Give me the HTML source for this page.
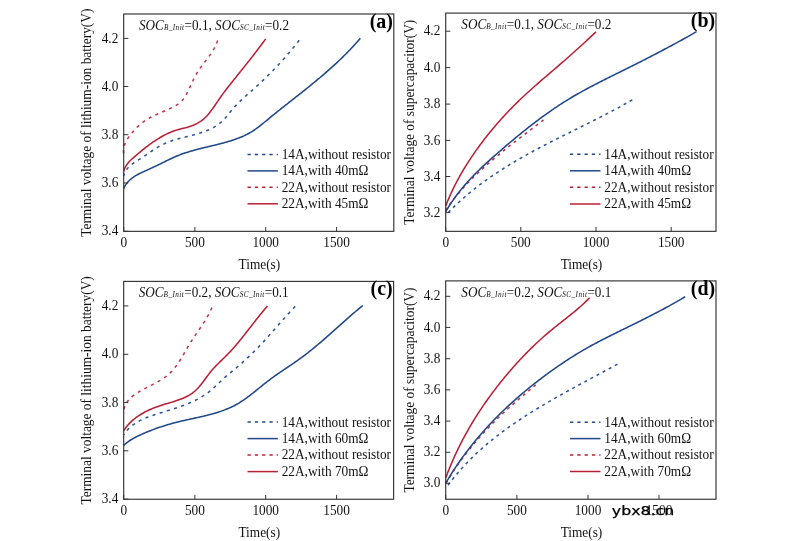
<!DOCTYPE html>
<html><head><meta charset="utf-8"><title>Figure</title>
<style>html,body{margin:0;padding:0;background:#fff}svg{display:block}text{font-family:"Liberation Serif","Times New Roman",serif}</style></head><body>
<svg width="790" height="541" viewBox="0 0 790 541">
<rect width="790" height="541" fill="#fff"/>
<g>
<path d="M123.70 153.90 L123.53 152.43 L123.48 150.98 L123.56 149.54 L123.75 148.11 L124.05 146.70 L124.44 145.31 L124.93 143.93 L125.51 142.57 L126.16 141.23 L126.89 139.90 L127.67 138.60 L128.52 137.32 L129.41 136.06 L130.35 134.82 L131.32 133.61 L132.32 132.42 L133.34 131.25 L134.38 130.11 L135.42 129.00 L136.48 127.91 L137.55 126.85 L138.64 125.82 L139.74 124.82 L140.87 123.85 L142.02 122.91 L143.19 122.01 L144.38 121.13 L145.61 120.29 L146.86 119.49 L148.14 118.71 L149.44 117.97 L150.76 117.25 L152.11 116.56 L153.47 115.89 L154.84 115.24 L156.23 114.61 L157.62 113.99 L159.02 113.38 L160.42 112.77 L161.82 112.17 L163.22 111.58 L164.61 110.98 L165.99 110.38 L167.37 109.78 L168.72 109.16 L170.06 108.54 L171.38 107.89 L172.68 107.23 L173.95 106.55 L175.19 105.85 L176.40 105.12 L177.57 104.35 L178.70 103.54 L179.79 102.68 L180.83 101.76 L181.82 100.79 L182.76 99.74 L183.64 98.63 L184.47 97.46 L185.26 96.24 L186.01 94.98 L186.74 93.68 L187.43 92.35 L188.11 91.01 L188.77 89.65 L189.42 88.28 L190.06 86.90 L190.70 85.51 L191.33 84.13 L191.97 82.74 L192.61 81.36 L193.26 79.98 L193.93 78.61 L194.62 77.26 L195.32 75.92 L196.05 74.60 L196.81 73.30 L197.60 72.03 L198.41 70.77 L199.24 69.53 L200.10 68.31 L200.97 67.09 L201.85 65.89 L202.74 64.70 L203.64 63.51 L204.55 62.32 L205.45 61.14 L206.36 59.96 L207.26 58.77 L208.15 57.57 L209.02 56.37 L209.89 55.16 L210.74 53.94 L211.56 52.70 L212.37 51.44 L213.15 50.16 L213.90 48.87 L214.61 47.55 L215.29 46.20 L215.93 44.82 L216.54 43.42 L217.09 41.98 L217.60 40.50" fill="none" stroke="#c23347" stroke-width="1.55" stroke-dasharray="3.1 4.4" stroke-dashoffset="6.91" stroke-linejoin="round"/>
<path d="M123.70 175.90 L124.18 174.34 L124.76 172.89 L125.43 171.53 L126.17 170.26 L126.99 169.07 L127.88 167.96 L128.84 166.92 L129.85 165.94 L130.91 165.01 L132.02 164.12 L133.17 163.28 L134.36 162.46 L135.57 161.67 L136.80 160.89 L138.05 160.12 L139.32 159.35 L140.58 158.58 L141.85 157.79 L143.11 156.99 L144.36 156.16 L145.61 155.32 L146.86 154.46 L148.10 153.60 L149.34 152.74 L150.59 151.87 L151.84 151.01 L153.09 150.16 L154.36 149.32 L155.63 148.50 L156.91 147.69 L158.20 146.91 L159.51 146.16 L160.84 145.44 L162.18 144.75 L163.54 144.10 L164.91 143.48 L166.30 142.89 L167.70 142.32 L169.11 141.78 L170.53 141.27 L171.96 140.78 L173.40 140.30 L174.85 139.85 L176.31 139.41 L177.77 138.99 L179.23 138.58 L180.70 138.18 L182.17 137.79 L183.64 137.40 L185.11 137.03 L186.58 136.65 L188.04 136.28 L189.51 135.91 L190.96 135.54 L192.42 135.16 L193.86 134.78 L195.30 134.39 L196.73 133.99 L198.16 133.58 L199.57 133.16 L200.96 132.72 L202.35 132.27 L203.72 131.80 L205.08 131.31 L206.41 130.80 L207.74 130.26 L209.04 129.70 L210.33 129.11 L211.59 128.50 L212.83 127.85 L214.06 127.17 L215.26 126.45 L216.45 125.70 L217.61 124.91 L218.75 124.08 L219.87 123.20 L220.97 122.29 L222.05 121.32 L223.11 120.31 L224.14 119.25 L225.16 118.13 L226.16 116.98 L227.14 115.80 L228.12 114.59 L229.09 113.37 L230.06 112.16 L231.03 110.95 L232.02 109.77 L233.01 108.61 L234.01 107.47 L235.03 106.36 L236.05 105.27 L237.08 104.19 L238.12 103.14 L239.16 102.10 L240.22 101.08 L241.27 100.07 L242.34 99.07 L243.41 98.08 L244.48 97.10 L245.56 96.12 L246.64 95.16 L247.73 94.19 L248.82 93.23 L249.91 92.27 L251.00 91.31 L252.09 90.35 L253.18 89.38 L254.27 88.41 L255.37 87.43 L256.46 86.44 L257.55 85.45 L258.64 84.45 L259.73 83.44 L260.81 82.43 L261.90 81.40 L262.98 80.38 L264.06 79.34 L265.14 78.30 L266.21 77.25 L267.28 76.20 L268.35 75.14 L269.42 74.07 L270.49 73.00 L271.55 71.92 L272.60 70.84 L273.66 69.75 L274.71 68.66 L275.75 67.56 L276.79 66.46 L277.83 65.36 L278.86 64.25 L279.89 63.14 L280.91 62.02 L281.93 60.90 L282.94 59.77 L283.95 58.65 L284.95 57.52 L285.95 56.38 L286.94 55.25 L287.92 54.11 L288.90 52.97 L289.87 51.82 L290.84 50.68 L291.80 49.53 L292.75 48.38 L293.69 47.23 L294.63 46.08 L295.56 44.92 L296.48 43.77 L297.40 42.61 L298.30 41.46 L299.20 40.30" fill="none" stroke="#2f5596" stroke-width="1.55" stroke-dasharray="3.1 4.4" stroke-dashoffset="0.62" stroke-linejoin="round"/>
<path d="M123.70 188.60 L124.34 187.19 L125.05 185.85 L125.84 184.59 L126.68 183.41 L127.59 182.29 L128.55 181.23 L129.57 180.23 L130.63 179.28 L131.74 178.38 L132.90 177.53 L134.09 176.72 L135.31 175.94 L136.57 175.20 L137.85 174.48 L139.16 173.79 L140.48 173.12 L141.82 172.47 L143.18 171.83 L144.54 171.21 L145.90 170.59 L147.27 169.98 L148.64 169.37 L149.99 168.75 L151.35 168.14 L152.69 167.52 L154.04 166.90 L155.38 166.27 L156.72 165.64 L158.05 165.00 L159.39 164.35 L160.72 163.70 L162.06 163.04 L163.39 162.38 L164.73 161.71 L166.07 161.05 L167.41 160.38 L168.76 159.72 L170.11 159.07 L171.46 158.43 L172.82 157.79 L174.19 157.18 L175.57 156.57 L176.95 155.99 L178.35 155.42 L179.75 154.87 L181.16 154.34 L182.58 153.83 L184.00 153.33 L185.43 152.85 L186.87 152.39 L188.31 151.93 L189.75 151.50 L191.21 151.07 L192.66 150.65 L194.12 150.25 L195.58 149.85 L197.05 149.46 L198.51 149.08 L199.98 148.71 L201.45 148.34 L202.93 147.98 L204.40 147.62 L205.87 147.27 L207.34 146.92 L208.81 146.57 L210.28 146.22 L211.74 145.87 L213.21 145.52 L214.67 145.17 L216.13 144.81 L217.58 144.45 L219.03 144.09 L220.48 143.73 L221.92 143.35 L223.35 142.97 L224.78 142.58 L226.20 142.19 L227.61 141.78 L229.02 141.36 L230.42 140.94 L231.81 140.50 L233.19 140.04 L234.56 139.58 L235.92 139.09 L237.28 138.60 L238.62 138.08 L239.95 137.55 L241.26 137.00 L242.57 136.43 L243.87 135.85 L245.16 135.23 L246.44 134.60 L247.70 133.94 L248.97 133.26 L250.22 132.55 L251.46 131.81 L252.70 131.04 L253.93 130.24 L255.15 129.41 L256.37 128.56 L257.58 127.67 L258.79 126.77 L259.99 125.84 L261.19 124.90 L262.38 123.94 L263.57 122.98 L264.76 122.00 L265.94 121.02 L267.13 120.04 L268.30 119.06 L269.48 118.09 L270.66 117.12 L271.83 116.16 L273.01 115.20 L274.18 114.25 L275.35 113.30 L276.52 112.36 L277.69 111.42 L278.86 110.49 L280.03 109.56 L281.20 108.63 L282.37 107.70 L283.53 106.78 L284.70 105.86 L285.86 104.94 L287.03 104.03 L288.19 103.11 L289.35 102.20 L290.52 101.29 L291.68 100.38 L292.84 99.46 L294.00 98.55 L295.17 97.64 L296.33 96.73 L297.49 95.81 L298.65 94.89 L299.82 93.98 L300.98 93.06 L302.14 92.13 L303.30 91.21 L304.47 90.28 L305.63 89.35 L306.79 88.42 L307.95 87.49 L309.11 86.55 L310.27 85.61 L311.43 84.67 L312.59 83.72 L313.75 82.77 L314.90 81.82 L316.06 80.87 L317.21 79.91 L318.36 78.95 L319.51 77.98 L320.65 77.02 L321.80 76.05 L322.94 75.07 L324.08 74.09 L325.21 73.11 L326.35 72.13 L327.48 71.14 L328.61 70.15 L329.73 69.15 L330.85 68.15 L331.97 67.15 L333.08 66.14 L334.19 65.13 L335.30 64.11 L336.40 63.09 L337.50 62.06 L338.59 61.03 L339.68 60.00 L340.77 58.96 L341.85 57.92 L342.92 56.87 L343.99 55.82 L345.05 54.76 L346.11 53.70 L347.17 52.64 L348.22 51.57 L349.26 50.49 L350.29 49.41 L351.32 48.32 L352.35 47.23 L353.37 46.13 L354.38 45.03 L355.38 43.92 L356.38 42.81 L357.37 41.69 L358.35 40.57 L359.33 39.44 L360.30 38.30" fill="none" stroke="#214889" stroke-width="1.55" stroke-linejoin="round"/>
<path d="M123.70 171.30 L124.12 169.82 L124.65 168.42 L125.28 167.09 L126.00 165.83 L126.79 164.63 L127.66 163.48 L128.59 162.38 L129.57 161.32 L130.60 160.29 L131.66 159.29 L132.74 158.31 L133.85 157.33 L134.96 156.37 L136.08 155.41 L137.20 154.45 L138.32 153.49 L139.45 152.54 L140.59 151.60 L141.73 150.66 L142.88 149.72 L144.04 148.79 L145.21 147.87 L146.39 146.95 L147.58 146.04 L148.78 145.14 L149.99 144.25 L151.22 143.36 L152.45 142.49 L153.71 141.63 L154.97 140.78 L156.25 139.94 L157.54 139.12 L158.84 138.31 L160.15 137.52 L161.47 136.76 L162.80 136.01 L164.14 135.29 L165.49 134.59 L166.84 133.92 L168.20 133.28 L169.57 132.67 L170.94 132.09 L172.32 131.55 L173.70 131.03 L175.09 130.56 L176.47 130.12 L177.86 129.71 L179.26 129.33 L180.65 128.97 L182.04 128.61 L183.43 128.26 L184.82 127.90 L186.21 127.53 L187.60 127.15 L188.98 126.73 L190.37 126.28 L191.74 125.80 L193.11 125.26 L194.47 124.68 L195.82 124.06 L197.15 123.38 L198.45 122.66 L199.73 121.89 L200.98 121.06 L202.20 120.19 L203.37 119.27 L204.51 118.29 L205.60 117.27 L206.65 116.19 L207.65 115.08 L208.62 113.93 L209.57 112.76 L210.48 111.57 L211.38 110.36 L212.25 109.15 L213.12 107.94 L213.97 106.73 L214.81 105.52 L215.65 104.30 L216.48 103.08 L217.31 101.87 L218.14 100.65 L218.97 99.44 L219.80 98.22 L220.65 97.01 L221.50 95.79 L222.37 94.58 L223.25 93.37 L224.15 92.16 L225.06 90.95 L225.99 89.75 L226.92 88.55 L227.86 87.35 L228.80 86.15 L229.74 84.96 L230.68 83.77 L231.63 82.59 L232.57 81.40 L233.51 80.22 L234.45 79.05 L235.38 77.87 L236.32 76.70 L237.26 75.53 L238.20 74.36 L239.13 73.19 L240.07 72.03 L241.00 70.86 L241.93 69.69 L242.86 68.53 L243.79 67.37 L244.72 66.20 L245.65 65.04 L246.58 63.87 L247.51 62.70 L248.43 61.54 L249.35 60.37 L250.28 59.20 L251.20 58.03 L252.12 56.86 L253.03 55.68 L253.95 54.51 L254.86 53.33 L255.78 52.14 L256.69 50.96 L257.60 49.77 L258.51 48.58 L259.41 47.38 L260.32 46.19 L261.22 44.98 L262.12 43.78 L263.02 42.56 L263.91 41.35 L264.81 40.13 L265.70 38.90" fill="none" stroke="#b92035" stroke-width="1.55" stroke-linejoin="round"/>
<rect x="123.70" y="14.00" width="270.10" height="217.35" fill="none" stroke="#333" stroke-width="1.15"/>
<path d="M123.70 38.40h4.6M123.70 86.50h4.6M123.70 134.70h4.6M123.70 183.00h4.6M123.70 231.35h4.6M123.70 231.35v-4.4M194.90 231.35v-4.4M265.70 231.35v-4.4M336.60 231.35v-4.4" stroke="#333" stroke-width="1" fill="none"/>
<text transform="translate(118.30 42.50) scale(1 1.130)" font-size="13.3" text-anchor="end" fill="#111">4.2</text>
<text transform="translate(118.30 90.60) scale(1 1.130)" font-size="13.3" text-anchor="end" fill="#111">4.0</text>
<text transform="translate(118.30 138.80) scale(1 1.130)" font-size="13.3" text-anchor="end" fill="#111">3.8</text>
<text transform="translate(118.30 187.10) scale(1 1.130)" font-size="13.3" text-anchor="end" fill="#111">3.6</text>
<text transform="translate(118.30 235.45) scale(1 1.130)" font-size="13.3" text-anchor="end" fill="#111">3.4</text>
<text transform="translate(123.70 246.95) scale(1 1.130)" font-size="13.3" text-anchor="middle" fill="#111">0</text>
<text transform="translate(194.90 246.95) scale(1 1.130)" font-size="13.3" text-anchor="middle" fill="#111">500</text>
<text transform="translate(265.70 246.95) scale(1 1.130)" font-size="13.3" text-anchor="middle" fill="#111">1000</text>
<text transform="translate(336.60 246.95) scale(1 1.130)" font-size="13.3" text-anchor="middle" fill="#111">1500</text>
<text transform="translate(259.35 268.65) scale(1 1.130)" font-size="13.3" text-anchor="middle" fill="#111">Time(s)</text>
<text transform="translate(90.90 122.67) rotate(-90) scale(1 1.02)" font-size="13.3" text-anchor="middle" textLength="228.3" lengthAdjust="spacingAndGlyphs" fill="#111">Terminal voltage of lithium-ion battery(V)</text>
<text transform="translate(139.00 29.60) scale(1 1.130)" font-size="13.3" text-anchor="start" fill="#111" textLength="150" lengthAdjust="spacingAndGlyphs"><tspan font-style="italic">SOC</tspan><tspan font-style="italic" font-size="7.3" letter-spacing="0.45">B_Init</tspan>=0.1, <tspan font-style="italic">SOC</tspan><tspan font-style="italic" font-size="7.3" letter-spacing="0.45">SC_Init</tspan>=0.2</text>
<text x="392.90" y="28.00" font-size="19.9" font-weight="bold" text-anchor="end" fill="#000">(a)</text>
<path d="M247.50 154.50H277.90" stroke="#214889" stroke-width="1.5" stroke-dasharray="3.3 4" fill="none"/>
<text transform="translate(281.70 158.90) scale(1 1.130)" font-size="13.3" text-anchor="start" fill="#111">14A,without resistor</text>
<path d="M247.50 170.90H277.90" stroke="#214889" stroke-width="1.5" fill="none"/>
<text transform="translate(281.70 175.30) scale(1 1.130)" font-size="13.3" text-anchor="start" fill="#111">14A,with 40mΩ</text>
<path d="M247.50 187.20H277.90" stroke="#b92035" stroke-width="1.5" stroke-dasharray="3.3 4" fill="none"/>
<text transform="translate(281.70 191.60) scale(1 1.130)" font-size="13.3" text-anchor="start" fill="#111">22A,without resistor</text>
<path d="M247.50 203.80H277.90" stroke="#b92035" stroke-width="1.5" fill="none"/>
<text transform="translate(281.70 208.20) scale(1 1.130)" font-size="13.3" text-anchor="start" fill="#111">22A,with 45mΩ</text>
</g>
<g>
<path d="M445.70 210.10 L446.55 208.87 L447.41 207.64 L448.28 206.42 L449.15 205.21 L450.04 204.00 L450.93 202.81 L451.83 201.62 L452.74 200.44 L453.65 199.27 L454.58 198.10 L455.51 196.95 L456.45 195.80 L457.39 194.65 L458.35 193.52 L459.31 192.39 L460.28 191.27 L461.25 190.15 L462.23 189.04 L463.22 187.94 L464.22 186.84 L465.22 185.75 L466.23 184.67 L467.24 183.59 L468.26 182.52 L469.29 181.45 L470.32 180.39 L471.36 179.34 L472.41 178.29 L473.46 177.25 L474.51 176.21 L475.57 175.18 L476.64 174.15 L477.71 173.13 L478.79 172.11 L479.87 171.10 L480.95 170.09 L482.04 169.09 L483.14 168.09 L484.24 167.09 L485.34 166.10 L486.45 165.12 L487.56 164.14 L488.68 163.16 L489.80 162.19 L490.92 161.22 L492.05 160.25 L493.18 159.29 L494.32 158.33 L495.45 157.38 L496.59 156.42 L497.74 155.48 L498.88 154.53 L500.03 153.59 L501.19 152.65 L502.34 151.71 L503.50 150.78 L504.66 149.85 L505.82 148.92 L506.98 147.99 L508.15 147.07 L509.32 146.14 L510.49 145.22 L511.66 144.31 L512.83 143.39 L514.01 142.48 L515.18 141.56 L516.36 140.65 L517.54 139.74 L518.72 138.84 L519.90 137.93 L521.08 137.02 L522.26 136.12 L523.44 135.21 L524.62 134.31 L525.81 133.41 L526.99 132.51 L528.17 131.61 L529.35 130.71 L530.54 129.81 L531.72 128.91 L532.90 128.01 L534.08 127.11 L535.26 126.21 L536.44 125.31 L537.62 124.41 L538.80 123.51 L539.98 122.61 L541.15 121.71 L542.33 120.80 L543.50 119.90" fill="none" stroke="#c23347" stroke-width="1.55" stroke-dasharray="3.0 3.9" stroke-dashoffset="0.43" stroke-linejoin="round"/>
<path d="M445.70 215.20 L446.74 214.10 L447.78 213.01 L448.83 211.93 L449.88 210.85 L450.94 209.78 L452.01 208.72 L453.08 207.67 L454.15 206.62 L455.24 205.59 L456.32 204.55 L457.42 203.53 L458.51 202.51 L459.61 201.50 L460.72 200.50 L461.83 199.51 L462.95 198.52 L464.07 197.54 L465.20 196.56 L466.33 195.59 L467.47 194.63 L468.61 193.68 L469.76 192.73 L470.91 191.78 L472.06 190.85 L473.22 189.92 L474.39 188.99 L475.56 188.08 L476.73 187.17 L477.91 186.26 L479.09 185.36 L480.27 184.47 L481.46 183.58 L482.66 182.70 L483.85 181.82 L485.06 180.95 L486.26 180.08 L487.47 179.22 L488.68 178.37 L489.90 177.52 L491.12 176.68 L492.34 175.84 L493.57 175.00 L494.80 174.17 L496.04 173.35 L497.27 172.53 L498.51 171.72 L499.76 170.91 L501.01 170.10 L502.26 169.30 L503.51 168.51 L504.77 167.72 L506.03 166.93 L507.29 166.15 L508.55 165.37 L509.82 164.59 L511.09 163.82 L512.37 163.06 L513.64 162.30 L514.92 161.54 L516.20 160.78 L517.49 160.03 L518.77 159.29 L520.06 158.54 L521.35 157.80 L522.64 157.07 L523.94 156.33 L525.24 155.60 L526.54 154.88 L527.84 154.16 L529.14 153.44 L530.45 152.72 L531.75 152.01 L533.06 151.30 L534.37 150.59 L535.69 149.88 L537.00 149.18 L538.32 148.48 L539.63 147.78 L540.95 147.09 L542.27 146.39 L543.59 145.70 L544.92 145.02 L546.24 144.33 L547.56 143.65 L548.89 142.96 L550.22 142.28 L551.55 141.60 L552.88 140.93 L554.21 140.25 L555.54 139.58 L556.87 138.90 L558.20 138.23 L559.54 137.56 L560.87 136.89 L562.20 136.22 L563.54 135.55 L564.87 134.89 L566.21 134.22 L567.55 133.55 L568.88 132.89 L570.22 132.22 L571.56 131.56 L572.89 130.89 L574.23 130.23 L575.57 129.57 L576.91 128.90 L578.24 128.24 L579.58 127.57 L580.92 126.91 L582.25 126.24 L583.59 125.58 L584.93 124.91 L586.26 124.24 L587.60 123.58 L588.93 122.91 L590.26 122.24 L591.60 121.57 L592.93 120.90 L594.26 120.22 L595.59 119.55 L596.92 118.87 L598.25 118.20 L599.58 117.52 L600.91 116.84 L602.23 116.16 L603.56 115.47 L604.88 114.79 L606.20 114.10 L607.52 113.41 L608.84 112.72 L610.16 112.03 L611.48 111.33 L612.79 110.63 L614.11 109.93 L615.42 109.23 L616.73 108.52 L618.04 107.81 L619.35 107.10 L620.65 106.38 L621.95 105.67 L623.25 104.94 L624.55 104.22 L625.85 103.49 L627.14 102.76 L628.44 102.03 L629.73 101.29 L631.01 100.54 L632.30 99.80" fill="none" stroke="#2f5596" stroke-width="1.55" stroke-dasharray="3.0 3.9" stroke-dashoffset="3.26" stroke-linejoin="round"/>
<path d="M445.70 211.70 L446.47 210.36 L447.26 209.04 L448.06 207.73 L448.87 206.43 L449.69 205.15 L450.52 203.87 L451.36 202.61 L452.20 201.36 L453.06 200.12 L453.93 198.89 L454.80 197.67 L455.69 196.46 L456.58 195.26 L457.48 194.07 L458.39 192.89 L459.31 191.72 L460.24 190.56 L461.17 189.41 L462.12 188.26 L463.07 187.13 L464.02 186.00 L464.99 184.88 L465.96 183.77 L466.94 182.67 L467.92 181.58 L468.91 180.49 L469.91 179.41 L470.92 178.33 L471.93 177.26 L472.95 176.20 L473.97 175.15 L475.00 174.10 L476.04 173.05 L477.08 172.01 L478.12 170.98 L479.18 169.95 L480.23 168.93 L481.30 167.91 L482.36 166.89 L483.43 165.88 L484.51 164.87 L485.59 163.87 L486.68 162.87 L487.77 161.87 L488.86 160.87 L489.96 159.88 L491.06 158.89 L492.17 157.91 L493.28 156.92 L494.39 155.94 L495.50 154.96 L496.62 153.98 L497.75 153.00 L498.87 152.02 L500.00 151.04 L501.13 150.06 L502.26 149.09 L503.40 148.11 L504.54 147.13 L505.68 146.16 L506.82 145.19 L507.97 144.21 L509.11 143.24 L510.26 142.27 L511.42 141.30 L512.57 140.33 L513.73 139.36 L514.89 138.40 L516.06 137.43 L517.22 136.47 L518.39 135.51 L519.56 134.56 L520.74 133.60 L521.91 132.65 L523.09 131.70 L524.27 130.75 L525.46 129.80 L526.64 128.86 L527.83 127.92 L529.02 126.98 L530.22 126.05 L531.42 125.12 L532.62 124.19 L533.82 123.27 L535.02 122.35 L536.23 121.43 L537.44 120.52 L538.65 119.61 L539.86 118.71 L541.08 117.81 L542.30 116.92 L543.52 116.02 L544.75 115.14 L545.97 114.26 L547.20 113.38 L548.44 112.51 L549.67 111.64 L550.91 110.78 L552.15 109.92 L553.39 109.07 L554.64 108.22 L555.88 107.38 L557.13 106.55 L558.39 105.72 L559.64 104.90 L560.90 104.08 L562.16 103.27 L563.42 102.47 L564.69 101.67 L565.96 100.88 L567.23 100.09 L568.50 99.31 L569.77 98.54 L571.05 97.78 L572.33 97.02 L573.61 96.26 L574.90 95.51 L576.19 94.77 L577.48 94.03 L578.77 93.30 L580.06 92.57 L581.36 91.85 L582.65 91.13 L583.95 90.42 L585.25 89.71 L586.56 89.00 L587.86 88.30 L589.17 87.60 L590.47 86.91 L591.78 86.21 L593.10 85.53 L594.41 84.84 L595.72 84.16 L597.04 83.48 L598.36 82.80 L599.68 82.13 L601.00 81.46 L602.32 80.79 L603.64 80.12 L604.96 79.45 L606.29 78.79 L607.61 78.13 L608.94 77.46 L610.27 76.80 L611.60 76.14 L612.93 75.48 L614.26 74.82 L615.59 74.17 L616.92 73.51 L618.25 72.85 L619.59 72.19 L620.92 71.53 L622.26 70.87 L623.59 70.21 L624.93 69.55 L626.27 68.89 L627.60 68.23 L628.94 67.56 L630.28 66.90 L631.61 66.23 L632.95 65.56 L634.29 64.89 L635.63 64.22 L636.97 63.55 L638.30 62.87 L639.64 62.19 L640.98 61.51 L642.32 60.83 L643.66 60.15 L644.99 59.47 L646.33 58.79 L647.67 58.10 L649.01 57.41 L650.34 56.72 L651.68 56.03 L653.01 55.34 L654.35 54.65 L655.68 53.95 L657.02 53.25 L658.35 52.56 L659.68 51.86 L661.01 51.16 L662.34 50.45 L663.67 49.75 L665.00 49.04 L666.33 48.34 L667.66 47.63 L668.98 46.92 L670.31 46.21 L671.63 45.49 L672.95 44.78 L674.27 44.06 L675.59 43.35 L676.91 42.63 L678.23 41.91 L679.55 41.19 L680.86 40.47 L682.17 39.74 L683.48 39.02 L684.79 38.29 L686.10 37.57 L687.41 36.84 L688.71 36.11 L690.01 35.38 L691.32 34.64 L692.61 33.91 L693.91 33.17 L695.21 32.44 L696.50 31.70" fill="none" stroke="#214889" stroke-width="1.55" stroke-linejoin="round"/>
<path d="M445.70 206.10 L446.23 204.71 L446.78 203.33 L447.33 201.95 L447.89 200.57 L448.47 199.20 L449.05 197.83 L449.64 196.46 L450.24 195.10 L450.85 193.75 L451.48 192.39 L452.11 191.04 L452.74 189.70 L453.39 188.35 L454.05 187.01 L454.72 185.68 L455.39 184.35 L456.07 183.02 L456.76 181.70 L457.46 180.38 L458.17 179.06 L458.89 177.75 L459.61 176.45 L460.34 175.14 L461.08 173.84 L461.83 172.55 L462.58 171.25 L463.35 169.97 L464.12 168.68 L464.89 167.40 L465.68 166.13 L466.47 164.86 L467.27 163.59 L468.07 162.32 L468.88 161.06 L469.70 159.81 L470.52 158.56 L471.36 157.31 L472.19 156.06 L473.04 154.83 L473.89 153.59 L474.74 152.36 L475.60 151.13 L476.47 149.91 L477.34 148.69 L478.22 147.47 L479.10 146.26 L479.99 145.06 L480.88 143.85 L481.78 142.66 L482.68 141.46 L483.59 140.27 L484.51 139.09 L485.42 137.90 L486.35 136.73 L487.28 135.55 L488.21 134.39 L489.15 133.22 L490.09 132.06 L491.04 130.90 L491.99 129.75 L492.95 128.61 L493.91 127.46 L494.87 126.32 L495.84 125.19 L496.82 124.06 L497.80 122.93 L498.78 121.81 L499.77 120.69 L500.76 119.58 L501.76 118.47 L502.76 117.37 L503.77 116.27 L504.78 115.17 L505.79 114.08 L506.81 113.00 L507.83 111.92 L508.86 110.84 L509.89 109.76 L510.93 108.70 L511.97 107.63 L513.01 106.57 L514.06 105.52 L515.11 104.47 L516.17 103.42 L517.23 102.38 L518.29 101.34 L519.36 100.31 L520.43 99.28 L521.50 98.26 L522.58 97.24 L523.67 96.22 L524.75 95.21 L525.84 94.21 L526.93 93.21 L528.03 92.21 L529.13 91.21 L530.23 90.22 L531.33 89.23 L532.44 88.24 L533.55 87.26 L534.66 86.27 L535.78 85.29 L536.89 84.32 L538.01 83.34 L539.13 82.37 L540.25 81.39 L541.38 80.42 L542.50 79.45 L543.63 78.48 L544.75 77.51 L545.88 76.55 L547.01 75.58 L548.14 74.61 L549.27 73.64 L550.40 72.68 L551.54 71.71 L552.67 70.74 L553.80 69.77 L554.93 68.80 L556.07 67.83 L557.20 66.85 L558.33 65.88 L559.46 64.90 L560.59 63.92 L561.72 62.94 L562.85 61.96 L563.98 60.97 L565.11 59.99 L566.23 59.00 L567.36 58.01 L568.48 57.02 L569.61 56.02 L570.73 55.03 L571.85 54.03 L572.97 53.03 L574.08 52.03 L575.20 51.03 L576.31 50.03 L577.43 49.02 L578.54 48.02 L579.64 47.01 L580.75 46.00 L581.86 44.99 L582.96 43.98 L584.06 42.97 L585.16 41.96 L586.25 40.95 L587.35 39.93 L588.44 38.92 L589.53 37.90 L590.61 36.89 L591.69 35.87 L592.78 34.85 L593.85 33.84 L594.93 32.82 L596.00 31.80" fill="none" stroke="#b92035" stroke-width="1.55" stroke-linejoin="round"/>
<rect x="445.70" y="13.10" width="270.30" height="218.25" fill="none" stroke="#333" stroke-width="1.15"/>
<path d="M445.70 31.20h4.6M445.70 67.60h4.6M445.70 104.10h4.6M445.70 140.40h4.6M445.70 176.50h4.6M445.70 212.60h4.6M445.70 231.35v-4.4M520.80 231.35v-4.4M596.00 231.35v-4.4M671.20 231.35v-4.4" stroke="#333" stroke-width="1" fill="none"/>
<text transform="translate(440.30 35.30) scale(1 1.130)" font-size="13.3" text-anchor="end" fill="#111">4.2</text>
<text transform="translate(440.30 71.70) scale(1 1.130)" font-size="13.3" text-anchor="end" fill="#111">4.0</text>
<text transform="translate(440.30 108.20) scale(1 1.130)" font-size="13.3" text-anchor="end" fill="#111">3.8</text>
<text transform="translate(440.30 144.50) scale(1 1.130)" font-size="13.3" text-anchor="end" fill="#111">3.6</text>
<text transform="translate(440.30 180.60) scale(1 1.130)" font-size="13.3" text-anchor="end" fill="#111">3.4</text>
<text transform="translate(440.30 216.70) scale(1 1.130)" font-size="13.3" text-anchor="end" fill="#111">3.2</text>
<text transform="translate(445.70 246.95) scale(1 1.130)" font-size="13.3" text-anchor="middle" fill="#111">0</text>
<text transform="translate(520.80 246.95) scale(1 1.130)" font-size="13.3" text-anchor="middle" fill="#111">500</text>
<text transform="translate(596.00 246.95) scale(1 1.130)" font-size="13.3" text-anchor="middle" fill="#111">1000</text>
<text transform="translate(671.20 246.95) scale(1 1.130)" font-size="13.3" text-anchor="middle" fill="#111">1500</text>
<text transform="translate(581.45 268.65) scale(1 1.130)" font-size="13.3" text-anchor="middle" fill="#111">Time(s)</text>
<text transform="translate(413.70 122.22) rotate(-90) scale(1 1.02)" font-size="13.3" text-anchor="middle" textLength="205.0" lengthAdjust="spacingAndGlyphs" fill="#111">Terminal voltage of supercapacitor(V)</text>
<text transform="translate(461.30 28.70) scale(1 1.130)" font-size="13.3" text-anchor="start" fill="#111" textLength="150" lengthAdjust="spacingAndGlyphs"><tspan font-style="italic">SOC</tspan><tspan font-style="italic" font-size="7.3" letter-spacing="0.45">B_Init</tspan>=0.1, <tspan font-style="italic">SOC</tspan><tspan font-style="italic" font-size="7.3" letter-spacing="0.45">SC_Init</tspan>=0.2</text>
<text x="715.10" y="27.10" font-size="19.9" font-weight="bold" text-anchor="end" fill="#000">(b)</text>
<path d="M569.90 154.20H600.50" stroke="#214889" stroke-width="1.5" stroke-dasharray="3.3 4" fill="none"/>
<text transform="translate(604.30 158.60) scale(1 1.130)" font-size="13.3" text-anchor="start" fill="#111">14A,without resistor</text>
<path d="M569.90 170.80H600.50" stroke="#214889" stroke-width="1.5" fill="none"/>
<text transform="translate(604.30 175.20) scale(1 1.130)" font-size="13.3" text-anchor="start" fill="#111">14A,with 40mΩ</text>
<path d="M569.90 187.30H600.50" stroke="#b92035" stroke-width="1.5" stroke-dasharray="3.3 4" fill="none"/>
<text transform="translate(604.30 191.70) scale(1 1.130)" font-size="13.3" text-anchor="start" fill="#111">22A,without resistor</text>
<path d="M569.90 204.00H600.50" stroke="#b92035" stroke-width="1.5" fill="none"/>
<text transform="translate(604.30 208.40) scale(1 1.130)" font-size="13.3" text-anchor="start" fill="#111">22A,with 45mΩ</text>
</g>
<g>
<path d="M123.70 413.90 L123.70 412.28 L123.82 410.72 L124.05 409.23 L124.38 407.80 L124.82 406.43 L125.34 405.12 L125.96 403.85 L126.65 402.65 L127.43 401.49 L128.29 400.37 L129.21 399.31 L130.19 398.28 L131.24 397.29 L132.34 396.34 L133.49 395.43 L134.68 394.54 L135.92 393.69 L137.19 392.86 L138.48 392.06 L139.81 391.28 L141.15 390.52 L142.50 389.78 L143.87 389.05 L145.24 388.34 L146.61 387.64 L147.98 386.94 L149.34 386.25 L150.69 385.56 L152.04 384.87 L153.37 384.18 L154.69 383.48 L156.00 382.78 L157.29 382.07 L158.57 381.35 L159.83 380.61 L161.07 379.85 L162.29 379.08 L163.49 378.28 L164.67 377.47 L165.82 376.62 L166.95 375.74 L168.05 374.84 L169.12 373.90 L170.16 372.92 L171.17 371.91 L172.15 370.86 L173.11 369.78 L174.04 368.67 L174.96 367.54 L175.84 366.38 L176.71 365.19 L177.57 363.98 L178.40 362.75 L179.22 361.51 L180.03 360.24 L180.83 358.97 L181.62 357.68 L182.40 356.38 L183.17 355.07 L183.94 353.75 L184.70 352.43 L185.47 351.11 L186.23 349.79 L186.99 348.46 L187.76 347.14 L188.54 345.83 L189.32 344.52 L190.11 343.22 L190.91 341.93 L191.71 340.66 L192.53 339.39 L193.36 338.13 L194.19 336.88 L195.02 335.63 L195.86 334.40 L196.70 333.16 L197.54 331.93 L198.38 330.70 L199.22 329.47 L200.06 328.24 L200.89 327.01 L201.71 325.77 L202.53 324.54 L203.34 323.29 L204.14 322.05 L204.93 320.79 L205.70 319.53 L206.46 318.25 L207.21 316.97 L207.94 315.68 L208.65 314.37 L209.35 313.05 L210.02 311.71 L210.67 310.36 L211.30 308.99 L211.90 307.60" fill="none" stroke="#c23347" stroke-width="1.55" stroke-dasharray="3.1 4.4" stroke-dashoffset="2.93" stroke-linejoin="round"/>
<path d="M123.70 434.80 L124.53 433.55 L125.40 432.35 L126.32 431.20 L127.27 430.10 L128.27 429.04 L129.30 428.03 L130.37 427.06 L131.47 426.13 L132.60 425.24 L133.77 424.38 L134.96 423.56 L136.19 422.78 L137.43 422.03 L138.71 421.31 L140.00 420.62 L141.32 419.96 L142.66 419.32 L144.02 418.71 L145.39 418.12 L146.78 417.55 L148.18 417.00 L149.59 416.46 L151.02 415.95 L152.45 415.44 L153.89 414.96 L155.34 414.48 L156.79 414.01 L158.24 413.55 L159.70 413.09 L161.15 412.64 L162.60 412.19 L164.05 411.75 L165.50 411.30 L166.95 410.86 L168.39 410.42 L169.83 409.97 L171.26 409.52 L172.69 409.07 L174.12 408.61 L175.54 408.15 L176.95 407.69 L178.36 407.21 L179.77 406.73 L181.17 406.24 L182.56 405.74 L183.94 405.23 L185.32 404.71 L186.69 404.17 L188.05 403.62 L189.40 403.06 L190.74 402.48 L192.08 401.89 L193.40 401.28 L194.72 400.65 L196.02 400.00 L197.32 399.33 L198.60 398.64 L199.87 397.93 L201.13 397.20 L202.38 396.45 L203.62 395.67 L204.84 394.86 L206.05 394.03 L207.25 393.17 L208.43 392.28 L209.60 391.37 L210.76 390.43 L211.90 389.46 L213.03 388.47 L214.16 387.46 L215.27 386.44 L216.38 385.41 L217.48 384.37 L218.58 383.32 L219.68 382.27 L220.78 381.22 L221.87 380.18 L222.97 379.14 L224.07 378.11 L225.18 377.10 L226.29 376.11 L227.41 375.13 L228.53 374.17 L229.67 373.23 L230.80 372.30 L231.94 371.38 L233.07 370.46 L234.21 369.53 L235.34 368.61 L236.47 367.67 L237.59 366.72 L238.71 365.77 L239.83 364.81 L240.94 363.84 L242.05 362.87 L243.15 361.88 L244.25 360.89 L245.34 359.90 L246.43 358.89 L247.52 357.88 L248.60 356.86 L249.68 355.84 L250.75 354.81 L251.82 353.77 L252.88 352.72 L253.94 351.67 L254.99 350.62 L256.04 349.56 L257.08 348.49 L258.12 347.42 L259.16 346.34 L260.19 345.25 L261.21 344.17 L262.23 343.07 L263.25 341.98 L264.26 340.87 L265.27 339.77 L266.28 338.66 L267.28 337.55 L268.28 336.43 L269.27 335.31 L270.27 334.19 L271.26 333.07 L272.25 331.95 L273.24 330.83 L274.22 329.70 L275.21 328.57 L276.20 327.45 L277.18 326.32 L278.17 325.19 L279.15 324.07 L280.14 322.94 L281.13 321.82 L282.12 320.70 L283.11 319.58 L284.10 318.46 L285.09 317.35 L286.09 316.23 L287.09 315.12 L288.09 314.02 L289.09 312.92 L290.10 311.82 L291.11 310.72 L292.13 309.64 L293.15 308.55 L294.17 307.47 L295.20 306.40" fill="none" stroke="#2f5596" stroke-width="1.55" stroke-dasharray="3.1 4.4" stroke-dashoffset="2.04" stroke-linejoin="round"/>
<path d="M123.70 445.40 L124.73 444.44 L125.79 443.53 L126.87 442.66 L127.99 441.82 L129.12 441.02 L130.28 440.25 L131.46 439.51 L132.66 438.80 L133.88 438.11 L135.11 437.44 L136.37 436.79 L137.64 436.16 L138.92 435.54 L140.22 434.94 L141.53 434.35 L142.86 433.76 L144.19 433.19 L145.54 432.61 L146.89 432.05 L148.26 431.50 L149.63 430.95 L151.02 430.41 L152.41 429.88 L153.81 429.35 L155.21 428.84 L156.63 428.33 L158.05 427.83 L159.48 427.34 L160.91 426.86 L162.36 426.39 L163.80 425.92 L165.25 425.47 L166.71 425.02 L168.17 424.59 L169.63 424.16 L171.10 423.75 L172.57 423.34 L174.04 422.94 L175.51 422.56 L176.99 422.18 L178.47 421.81 L179.95 421.46 L181.43 421.10 L182.91 420.76 L184.39 420.42 L185.87 420.08 L187.35 419.75 L188.83 419.43 L190.31 419.10 L191.79 418.78 L193.27 418.45 L194.74 418.13 L196.21 417.81 L197.69 417.48 L199.15 417.15 L200.62 416.82 L202.08 416.49 L203.54 416.14 L205.00 415.80 L206.45 415.44 L207.89 415.08 L209.33 414.71 L210.77 414.34 L212.20 413.95 L213.63 413.55 L215.05 413.14 L216.46 412.71 L217.87 412.28 L219.27 411.83 L220.67 411.36 L222.05 410.88 L223.43 410.38 L224.80 409.86 L226.17 409.33 L227.52 408.78 L228.87 408.20 L230.21 407.61 L231.53 407.00 L232.85 406.36 L234.16 405.70 L235.46 405.01 L236.74 404.30 L238.02 403.57 L239.29 402.81 L240.54 402.02 L241.79 401.22 L243.03 400.40 L244.26 399.55 L245.48 398.69 L246.70 397.81 L247.91 396.92 L249.11 396.02 L250.31 395.10 L251.51 394.18 L252.70 393.24 L253.89 392.30 L255.07 391.35 L256.26 390.40 L257.44 389.44 L258.62 388.48 L259.80 387.52 L260.98 386.57 L262.16 385.61 L263.34 384.66 L264.53 383.72 L265.72 382.78 L266.91 381.85 L268.10 380.93 L269.30 380.02 L270.50 379.12 L271.71 378.23 L272.92 377.35 L274.14 376.48 L275.35 375.61 L276.57 374.76 L277.79 373.91 L279.02 373.07 L280.24 372.23 L281.47 371.39 L282.70 370.56 L283.93 369.73 L285.15 368.91 L286.38 368.08 L287.61 367.25 L288.84 366.43 L290.06 365.60 L291.29 364.77 L292.51 363.94 L293.73 363.10 L294.95 362.26 L296.16 361.42 L297.38 360.57 L298.59 359.71 L299.79 358.85 L300.99 357.97 L302.19 357.09 L303.38 356.20 L304.57 355.31 L305.75 354.40 L306.93 353.49 L308.11 352.57 L309.28 351.64 L310.45 350.71 L311.62 349.77 L312.78 348.83 L313.94 347.88 L315.09 346.92 L316.25 345.96 L317.40 344.99 L318.55 344.02 L319.69 343.05 L320.84 342.07 L321.98 341.08 L323.12 340.10 L324.26 339.11 L325.39 338.12 L326.53 337.12 L327.66 336.12 L328.79 335.13 L329.92 334.12 L331.05 333.12 L332.18 332.12 L333.31 331.11 L334.43 330.11 L335.56 329.10 L336.68 328.10 L337.81 327.09 L338.93 326.09 L340.05 325.08 L341.18 324.08 L342.30 323.08 L343.43 322.08 L344.55 321.08 L345.68 320.09 L346.80 319.09 L347.93 318.10 L349.06 317.11 L350.19 316.13 L351.31 315.15 L352.45 314.17 L353.58 313.20 L354.71 312.23 L355.85 311.27 L356.98 310.31 L358.12 309.36 L359.26 308.41 L360.41 307.47 L361.55 306.53 L362.70 305.60" fill="none" stroke="#214889" stroke-width="1.55" stroke-linejoin="round"/>
<path d="M123.70 430.70 L124.48 429.49 L125.30 428.32 L126.16 427.17 L127.06 426.05 L127.99 424.96 L128.95 423.90 L129.94 422.86 L130.97 421.85 L132.03 420.87 L133.11 419.92 L134.23 418.99 L135.37 418.09 L136.54 417.22 L137.73 416.37 L138.95 415.54 L140.19 414.74 L141.45 413.97 L142.73 413.21 L144.04 412.49 L145.36 411.78 L146.70 411.10 L148.06 410.44 L149.43 409.81 L150.81 409.19 L152.21 408.60 L153.63 408.03 L155.05 407.48 L156.49 406.95 L157.93 406.44 L159.38 405.95 L160.84 405.47 L162.30 405.01 L163.77 404.56 L165.23 404.11 L166.70 403.68 L168.17 403.24 L169.63 402.81 L171.09 402.37 L172.54 401.93 L173.98 401.48 L175.41 401.02 L176.83 400.55 L178.24 400.06 L179.64 399.56 L181.01 399.04 L182.37 398.49 L183.71 397.92 L185.04 397.32 L186.33 396.70 L187.61 396.04 L188.86 395.34 L190.08 394.61 L191.27 393.84 L192.43 393.03 L193.56 392.17 L194.66 391.26 L195.72 390.31 L196.76 389.31 L197.76 388.27 L198.75 387.20 L199.71 386.09 L200.65 384.96 L201.58 383.80 L202.49 382.62 L203.40 381.43 L204.30 380.22 L205.19 379.01 L206.09 377.79 L206.99 376.57 L207.89 375.35 L208.81 374.14 L209.73 372.94 L210.67 371.76 L211.63 370.59 L212.61 369.45 L213.61 368.33 L214.63 367.22 L215.66 366.14 L216.70 365.07 L217.76 364.00 L218.82 362.95 L219.89 361.91 L220.96 360.87 L222.04 359.83 L223.11 358.80 L224.18 357.76 L225.25 356.72 L226.31 355.67 L227.36 354.61 L228.40 353.54 L229.42 352.46 L230.44 351.37 L231.45 350.27 L232.46 349.17 L233.45 348.05 L234.44 346.93 L235.41 345.80 L236.38 344.67 L237.35 343.53 L238.31 342.38 L239.26 341.23 L240.21 340.07 L241.15 338.91 L242.09 337.74 L243.03 336.57 L243.96 335.39 L244.89 334.22 L245.81 333.04 L246.74 331.85 L247.66 330.67 L248.58 329.48 L249.50 328.30 L250.42 327.11 L251.34 325.92 L252.26 324.73 L253.18 323.55 L254.11 322.36 L255.03 321.18 L255.96 319.99 L256.88 318.81 L257.82 317.64 L258.75 316.46 L259.69 315.29 L260.64 314.12 L261.58 312.96 L262.54 311.80 L263.50 310.65 L264.46 309.50 L265.43 308.36 L266.41 307.23 L267.40 306.10" fill="none" stroke="#b92035" stroke-width="1.55" stroke-linejoin="round"/>
<rect x="123.70" y="281.40" width="269.90" height="217.85" fill="none" stroke="#333" stroke-width="1.15"/>
<path d="M123.70 305.90h4.6M123.70 354.30h4.6M123.70 402.60h4.6M123.70 450.80h4.6M123.70 499.25h4.6M123.70 499.25v-4.4M194.90 499.25v-4.4M265.70 499.25v-4.4M336.60 499.25v-4.4" stroke="#333" stroke-width="1" fill="none"/>
<text transform="translate(118.30 310.00) scale(1 1.130)" font-size="13.3" text-anchor="end" fill="#111">4.2</text>
<text transform="translate(118.30 358.40) scale(1 1.130)" font-size="13.3" text-anchor="end" fill="#111">4.0</text>
<text transform="translate(118.30 406.70) scale(1 1.130)" font-size="13.3" text-anchor="end" fill="#111">3.8</text>
<text transform="translate(118.30 454.90) scale(1 1.130)" font-size="13.3" text-anchor="end" fill="#111">3.6</text>
<text transform="translate(118.30 503.35) scale(1 1.130)" font-size="13.3" text-anchor="end" fill="#111">3.4</text>
<text transform="translate(123.70 514.85) scale(1 1.130)" font-size="13.3" text-anchor="middle" fill="#111">0</text>
<text transform="translate(194.90 514.85) scale(1 1.130)" font-size="13.3" text-anchor="middle" fill="#111">500</text>
<text transform="translate(265.70 514.85) scale(1 1.130)" font-size="13.3" text-anchor="middle" fill="#111">1000</text>
<text transform="translate(336.60 514.85) scale(1 1.130)" font-size="13.3" text-anchor="middle" fill="#111">1500</text>
<text transform="translate(259.25 536.55) scale(1 1.130)" font-size="13.3" text-anchor="middle" fill="#111">Time(s)</text>
<text transform="translate(90.90 390.32) rotate(-90) scale(1 1.02)" font-size="13.3" text-anchor="middle" textLength="228.3" lengthAdjust="spacingAndGlyphs" fill="#111">Terminal voltage of lithium-ion battery(V)</text>
<text transform="translate(138.70 297.00) scale(1 1.130)" font-size="13.3" text-anchor="start" fill="#111" textLength="150" lengthAdjust="spacingAndGlyphs"><tspan font-style="italic">SOC</tspan><tspan font-style="italic" font-size="7.3" letter-spacing="0.45">B_Init</tspan>=0.2, <tspan font-style="italic">SOC</tspan><tspan font-style="italic" font-size="7.3" letter-spacing="0.45">SC_Init</tspan>=0.1</text>
<text x="392.70" y="295.40" font-size="19.9" font-weight="bold" text-anchor="end" fill="#000">(c)</text>
<path d="M247.50 422.10H277.90" stroke="#214889" stroke-width="1.5" stroke-dasharray="3.3 4" fill="none"/>
<text transform="translate(281.70 426.50) scale(1 1.130)" font-size="13.3" text-anchor="start" fill="#111">14A,without resistor</text>
<path d="M247.50 438.60H277.90" stroke="#214889" stroke-width="1.5" fill="none"/>
<text transform="translate(281.70 443.00) scale(1 1.130)" font-size="13.3" text-anchor="start" fill="#111">14A,with 60mΩ</text>
<path d="M247.50 455.00H277.90" stroke="#b92035" stroke-width="1.5" stroke-dasharray="3.3 4" fill="none"/>
<text transform="translate(281.70 459.40) scale(1 1.130)" font-size="13.3" text-anchor="start" fill="#111">22A,without resistor</text>
<path d="M247.50 471.60H277.90" stroke="#b92035" stroke-width="1.5" fill="none"/>
<text transform="translate(281.70 476.00) scale(1 1.130)" font-size="13.3" text-anchor="start" fill="#111">22A,with 70mΩ</text>
</g>
<g>
<path d="M445.70 483.70 L446.45 482.42 L447.20 481.15 L447.96 479.87 L448.72 478.61 L449.50 477.35 L450.28 476.09 L451.07 474.84 L451.87 473.59 L452.67 472.35 L453.48 471.11 L454.30 469.87 L455.13 468.64 L455.96 467.42 L456.80 466.20 L457.64 464.98 L458.50 463.77 L459.36 462.56 L460.22 461.36 L461.09 460.16 L461.97 458.97 L462.85 457.78 L463.75 456.59 L464.64 455.41 L465.55 454.23 L466.45 453.06 L467.37 451.89 L468.29 450.73 L469.22 449.57 L470.15 448.41 L471.08 447.26 L472.03 446.12 L472.98 444.98 L473.93 443.84 L474.89 442.70 L475.85 441.57 L476.82 440.45 L477.80 439.33 L478.78 438.21 L479.76 437.10 L480.75 435.99 L481.74 434.89 L482.74 433.79 L483.75 432.69 L484.75 431.60 L485.77 430.51 L486.78 429.43 L487.80 428.35 L488.83 427.28 L489.86 426.21 L490.89 425.14 L491.93 424.08 L492.97 423.02 L494.01 421.97 L495.06 420.92 L496.11 419.87 L497.17 418.83 L498.23 417.80 L499.29 416.77 L500.36 415.75 L501.43 414.73 L502.50 413.71 L503.58 412.71 L504.66 411.70 L505.74 410.70 L506.82 409.71 L507.91 408.72 L509.00 407.73 L510.10 406.75 L511.19 405.77 L512.29 404.80 L513.39 403.83 L514.49 402.87 L515.60 401.90 L516.71 400.94 L517.82 399.99 L518.93 399.04 L520.04 398.09 L521.16 397.14 L522.27 396.19 L523.39 395.25 L524.52 394.30 L525.64 393.36 L526.76 392.41 L527.89 391.47 L529.01 390.52 L530.14 389.58 L531.27 388.63 L532.40 387.68 L533.54 386.72 L534.67 385.76 L535.80 384.80" fill="none" stroke="#c23347" stroke-width="1.55" stroke-dasharray="3.0 3.9" stroke-dashoffset="6.44" stroke-linejoin="round"/>
<path d="M445.70 488.30 L446.58 487.07 L447.48 485.84 L448.38 484.62 L449.29 483.42 L450.20 482.21 L451.13 481.02 L452.06 479.84 L453.00 478.66 L453.94 477.49 L454.89 476.33 L455.85 475.17 L456.82 474.02 L457.79 472.88 L458.77 471.75 L459.75 470.63 L460.74 469.51 L461.74 468.40 L462.75 467.29 L463.76 466.19 L464.77 465.10 L465.80 464.02 L466.83 462.94 L467.86 461.87 L468.91 460.81 L469.95 459.76 L471.01 458.71 L472.07 457.66 L473.13 456.63 L474.20 455.60 L475.28 454.57 L476.36 453.55 L477.45 452.54 L478.55 451.54 L479.64 450.54 L480.75 449.54 L481.86 448.56 L482.97 447.58 L484.09 446.60 L485.22 445.63 L486.35 444.67 L487.48 443.71 L488.62 442.75 L489.77 441.81 L490.92 440.87 L492.07 439.93 L493.23 439.00 L494.39 438.07 L495.56 437.15 L496.73 436.24 L497.91 435.32 L499.09 434.42 L500.27 433.52 L501.46 432.62 L502.66 431.73 L503.85 430.85 L505.05 429.96 L506.26 429.09 L507.47 428.22 L508.68 427.35 L509.90 426.49 L511.12 425.63 L512.34 424.77 L513.57 423.92 L514.80 423.08 L516.03 422.23 L517.27 421.40 L518.51 420.56 L519.76 419.73 L521.00 418.91 L522.25 418.08 L523.51 417.27 L524.76 416.45 L526.02 415.64 L527.28 414.83 L528.55 414.03 L529.81 413.23 L531.08 412.43 L532.36 411.64 L533.63 410.85 L534.91 410.06 L536.19 409.28 L537.47 408.50 L538.75 407.72 L540.04 406.94 L541.33 406.17 L542.62 405.40 L543.91 404.64 L545.20 403.87 L546.50 403.11 L547.80 402.35 L549.10 401.60 L550.40 400.84 L551.70 400.09 L553.00 399.34 L554.31 398.60 L555.62 397.85 L556.92 397.11 L558.23 396.37 L559.54 395.63 L560.86 394.89 L562.17 394.16 L563.48 393.43 L564.80 392.70 L566.11 391.97 L567.43 391.24 L568.75 390.51 L570.06 389.79 L571.38 389.07 L572.70 388.35 L574.02 387.63 L575.34 386.91 L576.66 386.19 L577.98 385.47 L579.30 384.76 L580.62 384.04 L581.94 383.33 L583.26 382.62 L584.59 381.91 L585.91 381.20 L587.23 380.49 L588.55 379.78 L589.87 379.07 L591.19 378.36 L592.51 377.65 L593.82 376.94 L595.14 376.24 L596.46 375.53 L597.78 374.82 L599.09 374.11 L600.41 373.41 L601.72 372.70 L603.04 371.99 L604.35 371.29 L605.66 370.58 L606.97 369.87 L608.28 369.17 L609.59 368.46 L610.89 367.75 L612.20 367.04 L613.50 366.33 L614.80 365.62 L616.10 364.91 L617.40 364.20" fill="none" stroke="#2f5596" stroke-width="1.55" stroke-dasharray="3.0 3.9" stroke-dashoffset="3.03" stroke-linejoin="round"/>
<path d="M445.70 483.20 L446.46 481.90 L447.22 480.61 L447.99 479.32 L448.76 478.04 L449.55 476.76 L450.33 475.48 L451.13 474.21 L451.93 472.94 L452.73 471.68 L453.55 470.42 L454.36 469.17 L455.19 467.92 L456.02 466.67 L456.85 465.43 L457.69 464.19 L458.54 462.96 L459.40 461.73 L460.25 460.51 L461.12 459.29 L461.99 458.07 L462.87 456.86 L463.75 455.66 L464.63 454.45 L465.53 453.25 L466.42 452.06 L467.33 450.87 L468.24 449.68 L469.15 448.50 L470.07 447.32 L471.00 446.15 L471.93 444.98 L472.86 443.82 L473.80 442.66 L474.75 441.50 L475.70 440.35 L476.66 439.20 L477.62 438.05 L478.59 436.91 L479.56 435.78 L480.54 434.65 L481.52 433.52 L482.50 432.39 L483.50 431.27 L484.49 430.16 L485.49 429.05 L486.50 427.94 L487.51 426.84 L488.52 425.74 L489.55 424.64 L490.57 423.55 L491.60 422.47 L492.63 421.38 L493.67 420.31 L494.72 419.23 L495.76 418.16 L496.81 417.09 L497.87 416.03 L498.93 414.97 L500.00 413.92 L501.07 412.87 L502.14 411.82 L503.22 410.78 L504.30 409.74 L505.39 408.71 L506.48 407.68 L507.57 406.65 L508.67 405.63 L509.77 404.61 L510.88 403.60 L511.99 402.59 L513.11 401.58 L514.23 400.58 L515.35 399.58 L516.47 398.59 L517.61 397.59 L518.74 396.61 L519.88 395.63 L521.02 394.65 L522.16 393.67 L523.31 392.70 L524.46 391.73 L525.62 390.77 L526.78 389.81 L527.94 388.86 L529.11 387.90 L530.28 386.96 L531.45 386.01 L532.63 385.07 L533.81 384.14 L534.99 383.21 L536.18 382.28 L537.37 381.35 L538.56 380.43 L539.76 379.52 L540.96 378.60 L542.16 377.69 L543.37 376.79 L544.57 375.89 L545.79 374.99 L547.00 374.09 L548.22 373.20 L549.44 372.32 L550.66 371.44 L551.89 370.56 L553.12 369.68 L554.35 368.81 L555.58 367.94 L556.82 367.08 L558.06 366.22 L559.30 365.37 L560.55 364.52 L561.79 363.68 L563.04 362.84 L564.29 362.00 L565.55 361.17 L566.81 360.34 L568.07 359.52 L569.33 358.71 L570.59 357.90 L571.86 357.10 L573.13 356.30 L574.40 355.50 L575.67 354.72 L576.94 353.94 L578.22 353.16 L579.50 352.39 L580.78 351.63 L582.06 350.87 L583.35 350.12 L584.64 349.38 L585.92 348.64 L587.22 347.91 L588.51 347.18 L589.80 346.46 L591.10 345.75 L592.39 345.04 L593.69 344.34 L594.99 343.64 L596.30 342.95 L597.60 342.26 L598.91 341.57 L600.21 340.89 L601.52 340.21 L602.83 339.54 L604.14 338.87 L605.45 338.20 L606.77 337.53 L608.08 336.87 L609.40 336.21 L610.71 335.55 L612.03 334.89 L613.35 334.24 L614.67 333.58 L615.99 332.93 L617.31 332.27 L618.64 331.62 L619.96 330.97 L621.29 330.32 L622.61 329.66 L623.94 329.01 L625.27 328.36 L626.59 327.71 L627.92 327.05 L629.25 326.40 L630.58 325.74 L631.91 325.08 L633.24 324.43 L634.57 323.77 L635.91 323.11 L637.24 322.45 L638.57 321.78 L639.91 321.12 L641.24 320.45 L642.57 319.78 L643.91 319.11 L645.24 318.44 L646.58 317.76 L647.91 317.09 L649.25 316.41 L650.58 315.73 L651.92 315.04 L653.25 314.35 L654.59 313.66 L655.92 312.97 L657.26 312.27 L658.59 311.57 L659.93 310.87 L661.26 310.16 L662.59 309.45 L663.93 308.74 L665.26 308.02 L666.60 307.29 L667.93 306.57 L669.26 305.84 L670.59 305.10 L671.92 304.36 L673.25 303.62 L674.58 302.87 L675.91 302.12 L677.24 301.36 L678.57 300.60 L679.90 299.83 L681.23 299.05 L682.55 298.27 L683.88 297.49 L685.20 296.70" fill="none" stroke="#214889" stroke-width="1.55" stroke-linejoin="round"/>
<path d="M445.70 478.10 L446.21 476.70 L446.73 475.30 L447.26 473.91 L447.79 472.52 L448.33 471.13 L448.88 469.74 L449.44 468.36 L450.00 466.98 L450.56 465.60 L451.14 464.22 L451.72 462.85 L452.31 461.48 L452.91 460.11 L453.51 458.75 L454.12 457.38 L454.73 456.03 L455.35 454.67 L455.98 453.32 L456.61 451.97 L457.26 450.62 L457.90 449.27 L458.56 447.93 L459.22 446.59 L459.88 445.26 L460.55 443.92 L461.23 442.59 L461.92 441.27 L462.61 439.94 L463.31 438.62 L464.01 437.30 L464.72 435.99 L465.43 434.68 L466.15 433.37 L466.88 432.06 L467.61 430.76 L468.35 429.46 L469.10 428.17 L469.85 426.87 L470.60 425.58 L471.36 424.30 L472.13 423.01 L472.90 421.73 L473.68 420.46 L474.46 419.18 L475.25 417.91 L476.05 416.65 L476.85 415.38 L477.65 414.12 L478.46 412.87 L479.28 411.61 L480.10 410.36 L480.93 409.12 L481.76 407.88 L482.60 406.64 L483.44 405.40 L484.29 404.17 L485.14 402.94 L486.00 401.71 L486.86 400.49 L487.72 399.27 L488.59 398.06 L489.47 396.85 L490.35 395.64 L491.24 394.43 L492.13 393.23 L493.02 392.04 L493.92 390.84 L494.82 389.65 L495.73 388.47 L496.64 387.29 L497.56 386.11 L498.48 384.93 L499.40 383.76 L500.33 382.60 L501.26 381.43 L502.20 380.27 L503.14 379.12 L504.08 377.97 L505.03 376.82 L505.99 375.67 L506.94 374.53 L507.90 373.40 L508.86 372.27 L509.83 371.14 L510.80 370.01 L511.78 368.89 L512.75 367.78 L513.74 366.66 L514.72 365.56 L515.71 364.45 L516.70 363.35 L517.70 362.26 L518.70 361.16 L519.71 360.08 L520.72 358.99 L521.73 357.91 L522.75 356.84 L523.77 355.77 L524.79 354.70 L525.82 353.64 L526.86 352.59 L527.90 351.53 L528.94 350.48 L529.99 349.44 L531.04 348.40 L532.10 347.37 L533.16 346.34 L534.23 345.31 L535.30 344.29 L536.38 343.27 L537.46 342.26 L538.55 341.25 L539.64 340.25 L540.74 339.25 L541.84 338.26 L542.95 337.27 L544.06 336.29 L545.18 335.31 L546.31 334.34 L547.43 333.37 L548.57 332.41 L549.71 331.45 L550.86 330.50 L552.01 329.55 L553.17 328.60 L554.33 327.66 L555.49 326.73 L556.66 325.79 L557.83 324.86 L559.01 323.93 L560.19 323.00 L561.36 322.08 L562.54 321.15 L563.72 320.23 L564.90 319.30 L566.08 318.37 L567.25 317.44 L568.43 316.51 L569.60 315.57 L570.77 314.64 L571.93 313.69 L573.09 312.75 L574.25 311.80 L575.40 310.84 L576.54 309.88 L577.68 308.91 L578.81 307.94 L579.93 306.96 L581.04 305.97 L582.15 304.97 L583.25 303.96 L584.33 302.94 L585.41 301.92 L586.48 300.88 L587.53 299.83 L588.57 298.77 L589.60 297.70" fill="none" stroke="#b92035" stroke-width="1.55" stroke-linejoin="round"/>
<rect x="445.70" y="280.90" width="270.30" height="218.35" fill="none" stroke="#333" stroke-width="1.15"/>
<path d="M445.70 296.30h4.6M445.70 327.40h4.6M445.70 358.70h4.6M445.70 389.90h4.6M445.70 421.10h4.6M445.70 452.30h4.6M445.70 483.20h4.6M445.70 499.25v-4.4M516.90 499.25v-4.4M588.00 499.25v-4.4M659.00 499.25v-4.4" stroke="#333" stroke-width="1" fill="none"/>
<text transform="translate(440.30 300.40) scale(1 1.130)" font-size="13.3" text-anchor="end" fill="#111">4.2</text>
<text transform="translate(440.30 331.50) scale(1 1.130)" font-size="13.3" text-anchor="end" fill="#111">4.0</text>
<text transform="translate(440.30 362.80) scale(1 1.130)" font-size="13.3" text-anchor="end" fill="#111">3.8</text>
<text transform="translate(440.30 394.00) scale(1 1.130)" font-size="13.3" text-anchor="end" fill="#111">3.6</text>
<text transform="translate(440.30 425.20) scale(1 1.130)" font-size="13.3" text-anchor="end" fill="#111">3.4</text>
<text transform="translate(440.30 456.40) scale(1 1.130)" font-size="13.3" text-anchor="end" fill="#111">3.2</text>
<text transform="translate(440.30 487.30) scale(1 1.130)" font-size="13.3" text-anchor="end" fill="#111">3.0</text>
<text transform="translate(445.70 514.85) scale(1 1.130)" font-size="13.3" text-anchor="middle" fill="#111">0</text>
<text transform="translate(516.90 514.85) scale(1 1.130)" font-size="13.3" text-anchor="middle" fill="#111">500</text>
<text transform="translate(588.00 514.85) scale(1 1.130)" font-size="13.3" text-anchor="middle" fill="#111">1000</text>
<text transform="translate(659.00 514.85) scale(1 1.130)" font-size="13.3" text-anchor="middle" fill="#111">1500</text>
<text transform="translate(581.45 536.55) scale(1 1.130)" font-size="13.3" text-anchor="middle" fill="#111">Time(s)</text>
<text transform="translate(413.70 390.07) rotate(-90) scale(1 1.02)" font-size="13.3" text-anchor="middle" textLength="205.0" lengthAdjust="spacingAndGlyphs" fill="#111">Terminal voltage of supercapacitor(V)</text>
<text transform="translate(461.30 296.50) scale(1 1.130)" font-size="13.3" text-anchor="start" fill="#111" textLength="150" lengthAdjust="spacingAndGlyphs"><tspan font-style="italic">SOC</tspan><tspan font-style="italic" font-size="7.3" letter-spacing="0.45">B_Init</tspan>=0.2, <tspan font-style="italic">SOC</tspan><tspan font-style="italic" font-size="7.3" letter-spacing="0.45">SC_Init</tspan>=0.1</text>
<text x="715.10" y="294.90" font-size="19.9" font-weight="bold" text-anchor="end" fill="#000">(d)</text>
<path d="M570.00 422.20H600.50" stroke="#214889" stroke-width="1.5" stroke-dasharray="3.3 4" fill="none"/>
<text transform="translate(604.30 426.60) scale(1 1.130)" font-size="13.3" text-anchor="start" fill="#111">14A,without resistor</text>
<path d="M570.00 438.60H600.50" stroke="#214889" stroke-width="1.5" fill="none"/>
<text transform="translate(604.30 443.00) scale(1 1.130)" font-size="13.3" text-anchor="start" fill="#111">14A,with 60mΩ</text>
<path d="M570.00 454.90H600.50" stroke="#b92035" stroke-width="1.5" stroke-dasharray="3.3 4" fill="none"/>
<text transform="translate(604.30 459.30) scale(1 1.130)" font-size="13.3" text-anchor="start" fill="#111">22A,without resistor</text>
<path d="M570.00 471.50H600.50" stroke="#b92035" stroke-width="1.5" fill="none"/>
<text transform="translate(604.30 475.90) scale(1 1.130)" font-size="13.3" text-anchor="start" fill="#111">22A,with 70mΩ</text>
</g>
<text x="611.8" y="514.7" font-size="12.5" style="font-family:'DejaVu Sans','Liberation Sans',sans-serif" textLength="62.5" lengthAdjust="spacingAndGlyphs" fill="#000" stroke="#000" stroke-width="0.25">ybx8.cn</text>
</svg></body></html>
